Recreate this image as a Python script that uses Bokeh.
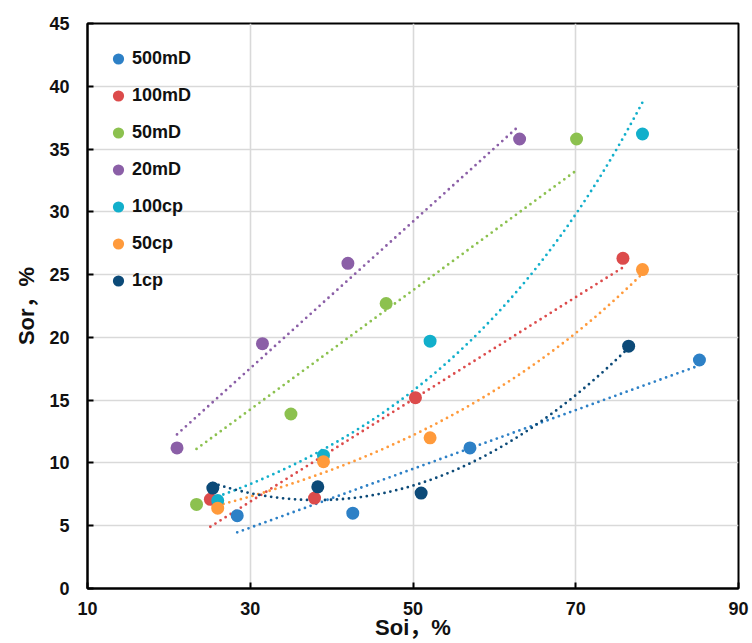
import numpy as np
from bokeh.plotting import figure
from bokeh.models import Legend, LegendItem, FixedTicker, Range1d
from bokeh.embed import file_html
from bokeh.resources import INLINE

# ---- data ----
series_names = ["500mD", "100mD", "50mD", "20mD", "100cp", "50cp", "1cp"]
series_colors = ["#2d80c6", "#dc4b4b", "#8cc14f", "#8b5fa7", "#12afcb", "#ff9a3b", "#0c4a78"]
trend_types = ["linear", "linear", "linear0", "linear0", "exp", "exp", "poly2"]

soi_500mD = [28.4, 42.6, 57.0, 85.2]
sor_500mD = [5.8, 6.0, 11.2, 18.2]
soi_100mD = [25.1, 37.9, 50.3, 75.8]
sor_100mD = [7.1, 7.2, 15.2, 26.3]
soi_50mD = [23.4, 35.0, 46.7, 70.1]
sor_50mD = [6.7, 13.9, 22.7, 35.8]
soi_20mD = [21.0, 31.5, 42.0, 63.1]
sor_20mD = [11.2, 19.5, 25.9, 35.8]
soi_100cp = [26.0, 39.0, 52.1, 78.2]
sor_100cp = [7.0, 10.6, 19.7, 36.2]
soi_50cp = [26.0, 39.0, 52.1, 78.2]
sor_50cp = [6.4, 10.1, 12.0, 25.4]
soi_1cp = [25.4, 38.3, 51.0, 76.5]
sor_1cp = [8.0, 8.1, 7.6, 19.3]

soi_all = [soi_500mD, soi_100mD, soi_50mD, soi_20mD, soi_100cp, soi_50cp, soi_1cp]
sor_all = [sor_500mD, sor_100mD, sor_50mD, sor_20mD, sor_100cp, sor_50cp, sor_1cp]

x_ticks = [10, 30, 50, 70, 90]
y_ticks = [0, 5, 10, 15, 20, 25, 30, 35, 40, 45]
x_label = "Soi，%"
y_label = "Sor，%"

FONT = "Liberation Sans"
LABEL_FONT = "Liberation Sans, Noto Sans CJK SC"


def trend(xs, ys, kind):
    xs = np.asarray(xs, float)
    ys = np.asarray(ys, float)
    xx = np.linspace(xs.min(), xs.max(), 120)
    if kind == "linear":
        b, a = np.polyfit(xs, ys, 1)
        yy = a + b * xx
    elif kind == "linear0":
        k = np.sum(xs * ys) / np.sum(xs * xs)
        yy = k * xx
    elif kind == "exp":
        b, la = np.polyfit(xs, np.log(ys), 1)
        yy = np.exp(la) * np.exp(b * xx)
    else:
        c = np.polyfit(xs, ys, 2)
        yy = np.polyval(c, xx)
    return xx, yy


p = figure(width=752, height=643,
           x_range=Range1d(10, 90), y_range=Range1d(0, 45),
           output_backend="svg", toolbar_location=None,
           min_border_left=87, min_border_right=14,
           min_border_top=23, min_border_bottom=55)

p.background_fill_color = "white"
p.border_fill_color = "white"
p.outline_line_color = "black"
p.outline_line_width = 2

p.xaxis.ticker = FixedTicker(ticks=x_ticks)
p.yaxis.ticker = FixedTicker(ticks=y_ticks)
for ax in (p.xaxis, p.yaxis):
    ax.axis_line_color = "black"
    ax.axis_line_width = 2
    ax.major_tick_in = 6
    ax.major_tick_out = 0
    ax.major_tick_line_color = "black"
    ax.major_tick_line_width = 2
    ax.minor_tick_line_color = None
    ax.major_label_text_font = FONT
    ax.major_label_text_font_style = "bold"
    ax.major_label_text_font_size = "18px"
    ax.major_label_text_color = "#111111"
    ax.axis_label_text_font = LABEL_FONT
    ax.axis_label_text_font_style = "bold"
    ax.axis_label_text_font_size = "22px"
    ax.axis_label_text_color = "#111111"
p.xaxis.major_label_standoff = 13
p.yaxis.major_label_standoff = 18

p.yaxis.axis_label = y_label
p.yaxis.axis_label_standoff = 7
p.xaxis.axis_label = x_label
p.xaxis.axis_label_standoff = -3

p.xgrid.grid_line_color = "#d9d9d9"
p.ygrid.grid_line_color = "#d9d9d9"
p.xgrid.grid_line_width = 1.6
p.ygrid.grid_line_width = 1.6

# trendlines first (markers drawn on top)
for xs, ys, col, kind in zip(soi_all, sor_all, series_colors, trend_types):
    tx, ty = trend(xs, ys, kind)
    p.line(tx, ty, line_color=col, line_width=2.8, line_dash="0 6", line_cap="round")

items = []
for name, xs, ys, col in zip(series_names, soi_all, sor_all, series_colors):
    r = p.scatter(xs, ys, size=13, fill_color=col, line_color=None)
    items.append(LegendItem(label=name, renderers=[r]))

legend = Legend(items=items, location="top_left", margin=9, padding=8,
                glyph_width=28, glyph_height=37, spacing=0, label_standoff=0,
                label_text_font=FONT, label_text_font_style="bold",
                label_text_font_size="18px", label_text_color="#111111",
                background_fill_alpha=0, border_line_alpha=0)
p.add_layout(legend)

open("out.html", "w").write(file_html(p, INLINE))
